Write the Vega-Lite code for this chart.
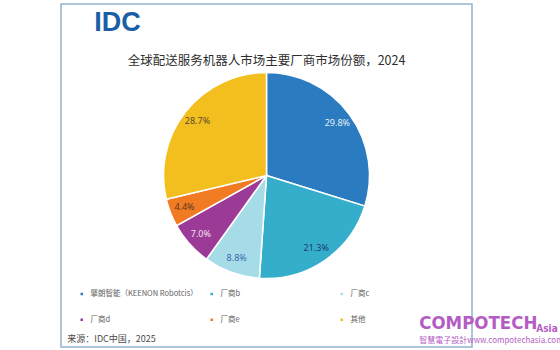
{
  "$schema": "https://vega.github.io/schema/vega-lite/v6.json",
  "padding": {"left": 60, "top": 3, "right": 5, "bottom": 3},
  "background": "white",
  "config": {
    "view": {"stroke": null}
  },
  "title": {"text": "IDC", "orient": "top", "anchor": "start", "align": "left", "dx": 34, "offset": -33.5, "font": "Liberation Sans", "fontWeight": "bold", "fontSize": 27, "color": "#1A5EA6"},
  "vconcat": [
    {
      "title": {"text": "来源：IDC中国，2025", "orient": "bottom", "anchor": "start", "align": "left", "dx": 7, "offset": -12.75, "font": "Noto Sans CJK SC", "fontWeight": "normal", "fontSize": 9, "color": "#4A4A4A"},
      "vconcat": [
        {
          "title": {"text": "Asia", "orient": "bottom", "anchor": "start", "align": "left", "dx": 476, "offset": -24.25, "font": "DejaVu Sans Condensed", "fontWeight": "bold", "fontSize": 10, "color": "#B45CC4"},
          "vconcat": [
            {
              "title": {"text": "COMPOTECH", "orient": "bottom", "anchor": "start", "align": "left", "dx": 359, "offset": -33.5, "font": "DejaVu Sans Condensed", "fontWeight": "bold", "fontSize": 18.5, "color": "#B45CC4"},
              "vconcat": [
                {
                  "title": {"text": "智慧電子設計www.compotechasia.com", "orient": "bottom", "anchor": "start", "align": "left", "dx": 359, "offset": -11.25, "font": "Noto Sans CJK SC", "fontWeight": "normal", "fontSize": 8, "color": "#B45CC4"},
                  "vconcat": [
                    {
                      "width": 411,
                      "height": 343,
                      "title": {"text": "全球配送服务机器人市场主要厂商市场份额，2024", "orient": "top", "anchor": "middle", "offset": -64, "font": "Noto Sans CJK SC", "fontWeight": "normal", "fontSize": 12.5, "color": "#2E2E2E"},
                      "data": {"values": [
                        {"idx": 1, "vendor": "擎朗智能（KEENON Robotcis）", "share": 29.8, "label": "29.8%"},
                        {"idx": 2, "vendor": "厂商b", "share": 21.3, "label": "21.3%"},
                        {"idx": 3, "vendor": "厂商c", "share": 8.8, "label": "8.8%"},
                        {"idx": 4, "vendor": "厂商d", "share": 7.0, "label": "7.0%"},
                        {"idx": 5, "vendor": "厂商e", "share": 4.4, "label": "4.4%"},
                        {"idx": 6, "vendor": "其他", "share": 28.7, "label": "28.7%"}
                      ]},
                      "layer": [
                        {
                          "data": {"values": [{"frame": 1}]},
                          "mark": {"type": "rect", "fill": null, "stroke": "#93B3CC", "strokeWidth": 1.5},
                          "encoding": {}
                        },
                        {
                          "mark": {"type": "arc", "outerRadius": 103, "stroke": "white", "strokeWidth": 1.5},
                          "encoding": {
                            "theta": {"field": "share", "type": "quantitative", "stack": true},
                            "order": {"field": "idx", "type": "quantitative"},
                            "color": {
                              "field": "vendor", "type": "nominal",
                              "scale": {"domain": ["擎朗智能（KEENON Robotcis）", "厂商b", "厂商c", "厂商d", "厂商e", "其他"], "range": ["#2A7BC0", "#35AECB", "#A6DCE8", "#9C3B97", "#F07B23", "#F2BF1E"]},
                              "legend": {
                                "orient": "none", "legendX": 17, "legendY": 286,
                                "direction": "horizontal", "columns": 3, "gridAlign": "all",
                                "title": null, "symbolType": "square", "symbolSize": 16,
                                "labelFont": "Noto Sans CJK SC", "labelFontSize": 7.5, "labelColor": "#5E5E5E",
                                "labelOffset": 5, "columnPadding": 8, "rowPadding": 15, "padding": 0, "labelLimit": 200
                              }
                            }
                          }
                        },
                        {
                          "mark": {"type": "text", "radius": 88, "font": "Noto Sans", "fontSize": 9},
                          "encoding": {
                            "theta": {"field": "share", "type": "quantitative", "stack": true},
                            "order": {"field": "idx", "type": "quantitative"},
                            "text": {"field": "label"},
                            "color": {
                              "field": "vendor", "type": "nominal",
                              "scale": {"domain": ["擎朗智能（KEENON Robotcis）", "厂商b", "厂商c", "厂商d", "厂商e", "其他"], "range": ["#E6EEF6", "#1E3C72", "#3A68B0", "#F0E2F0", "#5A3A22", "#5A4A30"]},
                              "legend": null
                            }
                          }
                        }
                      ],
                      "resolve": {"scale": {"color": "independent"}}
                    }
                  ]
                }
              ]
            }
          ]
        }
      ]
    }
  ]
}
